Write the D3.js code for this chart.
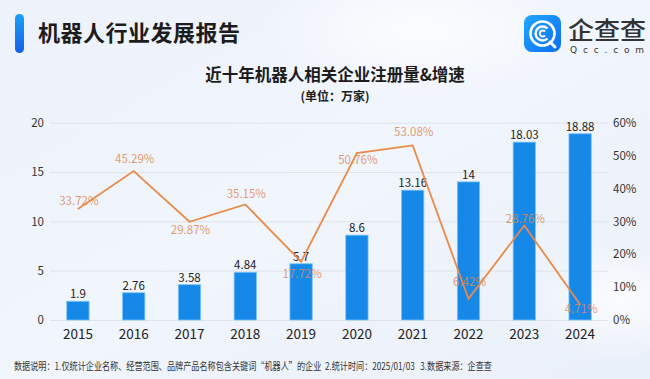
<!DOCTYPE html>
<html><head><meta charset="utf-8">
<script src="https://cdn.jsdelivr.net/npm/d3@7/dist/d3.min.js"></script>
<style>html,body{margin:0;padding:0;background:#eef3fb;}svg{display:block;}</style>
</head><body><svg id="c" width="650" height="379"></svg>
<script>
const years = ["2015","2016","2017","2018","2019","2020","2021","2022","2023","2024"];
const counts = [1.9, 2.76, 3.58, 4.84, 5.7, 8.6, 13.16, 14, 18.03, 18.88];
const growth = [33.72, 45.29, 29.87, 35.15, 17.72, 50.76, 53.08, 6.42, 28.76, 4.71];
const leftTicks = [0, 5, 10, 15, 20];
const rightTicks = [0, 10, 20, 30, 40, 50, 60];
// label vertical offsets (layout only, px)
const growthLabelDy = [-8, -12, 8, -10, 12, 7, -13, -17, -6, 4];

const FONT = "'Noto Sans CJK SC','Noto Sans',sans-serif";
const svg = d3.select("#c").style("font-family", FONT);
const W = 650, H = 379;
const defs = svg.append("defs");

const bg = defs.append("linearGradient").attr("id","bg").attr("x1","0").attr("y1","0").attr("x2","1").attr("y2","1");
bg.append("stop").attr("offset","0").attr("stop-color","#edf2fb");
bg.append("stop").attr("offset","0.5").attr("stop-color","#f1f5fc");
bg.append("stop").attr("offset","1").attr("stop-color","#eaf0fa");
svg.append("rect").attr("width",W).attr("height",H).attr("fill","url(#bg)");
const glow = defs.append("radialGradient").attr("id","glow");
glow.append("stop").attr("offset","0").attr("stop-color","#ffffff").attr("stop-opacity",0.8);
glow.append("stop").attr("offset","1").attr("stop-color","#ffffff").attr("stop-opacity",0);
svg.append("ellipse").attr("cx",420).attr("cy",30).attr("rx",160).attr("ry",70).attr("fill","url(#glow)");
svg.append("ellipse").attr("cx",620).attr("cy",300).attr("rx",90).attr("ry",60).attr("fill","url(#glow)");

// header pill
const pill = defs.append("linearGradient").attr("id","pill").attr("x1","0").attr("y1","0").attr("x2","0").attr("y2","1");
pill.append("stop").attr("offset","0").attr("stop-color","#1aa0f7");
pill.append("stop").attr("offset","1").attr("stop-color","#1560e6");
svg.append("rect").attr("x",15).attr("y",14).attr("width",9).attr("height",39).attr("rx",4.5).attr("fill","url(#pill)");
svg.append("text").attr("x",38).attr("y",41).attr("font-size",22).attr("font-weight",700).attr("fill","#1c1c1c").attr("textLength",202).text("机器人行业发展报告");

// logo
const lg = defs.append("linearGradient").attr("id","lg").attr("x1","0").attr("y1","0").attr("x2","1").attr("y2","1");
lg.append("stop").attr("offset","0").attr("stop-color","#22a6ff");
lg.append("stop").attr("offset","1").attr("stop-color","#0b6ef0");
const logo = svg.append("g").attr("transform","translate(524,15)");
logo.append("rect").attr("width",37).attr("height",37).attr("rx",8).attr("fill","url(#lg)");
logo.append("circle").attr("cx",18.5).attr("cy",18.5).attr("r",12).attr("fill","none").attr("stroke","#fff").attr("stroke-width",2.6);
logo.append("path").attr("d","M23.5,13.5 A7,7 0 1,0 23.5,23.5").attr("fill","none").attr("stroke","#fff").attr("stroke-width",2.4);
logo.append("path").attr("d","M21,16.5 A3,3 0 1,0 21,20.5").attr("fill","none").attr("stroke","#fff").attr("stroke-width",2);
logo.append("path").attr("d","M26,27 L31,32").attr("stroke","#fff").attr("stroke-width",3).attr("stroke-linecap","round");
svg.append("text").attr("x",568).attr("y",39).attr("font-size",24).attr("font-weight",500).attr("fill","#333").attr("textLength",78).attr("lengthAdjust","spacingAndGlyphs").text("企查查");
svg.append("text").attr("x",570).attr("y",53).attr("font-size",9).attr("fill","#333").attr("textLength",74).attr("font-family","'DejaVu Sans',sans-serif").text("Qcc.com");

// titles
svg.append("text").attr("x",335).attr("y",81).attr("text-anchor","middle").attr("font-size",16.5).attr("font-weight",700).attr("fill","#1c1c1c").text("近十年机器人相关企业注册量&增速");
svg.append("text").attr("x",335).attr("y",100.5).attr("text-anchor","middle").attr("font-size",12).attr("font-weight",700).attr("fill","#1c1c1c").text("(单位：万家)");

// scales
const x = d3.scaleBand().domain(years).range([50, 608]).paddingInner(0.6).paddingOuter(0.3);
const y = d3.scaleLinear().domain([0, 20]).range([320, 122.7]);
const y2 = d3.scaleLinear().domain([0, 60]).range([320, 122.7]);

// grid
const grid = svg.append("g").attr("transform","translate(50,0)")
  .call(d3.axisLeft(y).tickValues(leftTicks).tickSize(-558).tickFormat(""));
grid.select(".domain").remove();
grid.selectAll("line").attr("stroke","#dfe3ea").attr("stroke-width",1);

const ax = svg.append("g").attr("transform","translate(46,0)")
  .call(d3.axisLeft(y).tickValues(leftTicks).tickSize(0).tickPadding(2));
ax.select(".domain").remove();
ax.selectAll("text").attr("font-size",11.5).attr("fill","#333").attr("font-family",FONT);

const ax2 = svg.append("g").attr("transform","translate(611,0)")
  .call(d3.axisRight(y2).tickValues(rightTicks).tickSize(0).tickPadding(2).tickFormat(d => d + "%"));
ax2.select(".domain").remove();
ax2.selectAll("text").attr("font-size",11.5).attr("fill","#333").attr("font-family",FONT);

const axb = svg.append("g").attr("transform","translate(0,327)")
  .call(d3.axisBottom(x).tickSize(0).tickPadding(2));
axb.select(".domain").remove();
axb.selectAll("text").attr("font-size",13.5).attr("fill","#222").attr("font-family",FONT);

// bars
svg.append("g").selectAll("rect").data(years).join("rect")
  .attr("x", d => x(d)).attr("width", x.bandwidth())
  .attr("y", (d,i) => y(counts[i])).attr("height", (d,i) => y(0) - y(counts[i]))
  .attr("fill","#1688e8").attr("stroke","#7cc3fb").attr("stroke-width",0.8);

svg.append("g").selectAll("text").data(years).join("text")
  .attr("x", d => x(d) + x.bandwidth()/2).attr("y", (d,i) => y(counts[i]) - 3)
  .attr("text-anchor","middle").attr("font-size",11.5).attr("fill","#222").text((d,i) => counts[i]);

// line
const cx = d => x(d) + x.bandwidth()/2;
svg.append("path").datum(years)
  .attr("d", d3.line().x(d => cx(d)).y((d,i) => y2(growth[i])))
  .attr("fill","none").attr("stroke","#ea8a48").attr("stroke-width",1.8);

svg.append("g").selectAll("text").data(years).join("text")
  .attr("x", d => cx(d) + 1).attr("y", (d,i) => y2(growth[i]) + growthLabelDy[i])
  .attr("dy","0.35em").attr("text-anchor","middle").attr("font-size",11.5)
  .attr("fill","#de8a52").attr("fill-opacity",0.85).text((d,i) => growth[i].toFixed(2) + "%");

// footnote
svg.append("text").attr("x",14).attr("y",370).attr("font-size",10).attr("fill","#333")
  .attr("xml:space","preserve").attr("textLength",478).attr("lengthAdjust","spacingAndGlyphs")
  .text("数据说明：1.仅统计企业名称、经营范围、品牌产品名称包含关键词“机器人”的企业  2.统计时间：2025/01/03   3.数据来源：企查查");
</script></body></html>
